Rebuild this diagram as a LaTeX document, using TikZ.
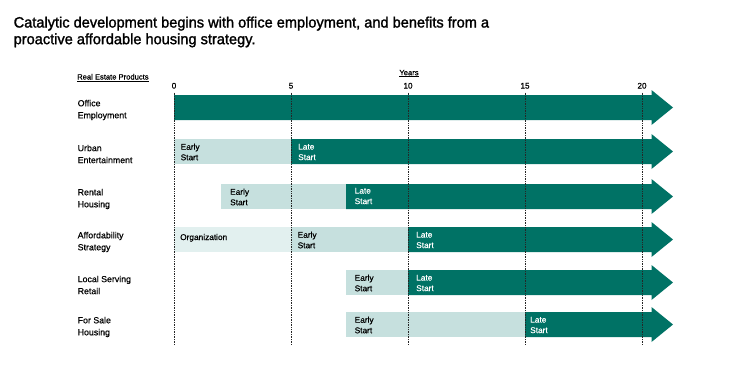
\documentclass[tikz,border=0pt]{standalone}
\usepackage{fontspec}
\setmainfont{Liberation Sans}
\newfontfamily\medfont[FakeBold=0.5]{Liberation Sans}
\newfontfamily\titlefont[FakeBold=1.5]{Liberation Sans}
\definecolor{dark}{RGB}{0,114,101}
\definecolor{early}{RGB}{198,224,222}
\definecolor{org}{RGB}{226,240,239}
\begin{document}
\begin{tikzpicture}[x=1pt,y=-1pt,
  rowlabel/.style={anchor=west,align=left,inner sep=0pt,font=\medfont\fontsize{8.8}{12}\selectfont},
  barlabel/.style={anchor=west,align=left,inner sep=0pt,font=\medfont\fontsize{8.3}{10.5}\selectfont},
  tick/.style={anchor=base,inner sep=0pt,font=\medfont\fontsize{8.2}{9}\selectfont},
  grid/.style={densely dotted,line width=0.7pt,black!85}]
\useasboundingbox (0,0) rectangle (742,365);
% title
\node[anchor=base west,inner sep=0pt,align=left] (title) at (13.5,27.5)
  {\scalebox{0.972}[1]{\titlefont\fontsize{15}{16}\selectfont Catalytic development begins with office employment, and benefits from a}};
\node[anchor=base west,inner sep=0pt,align=left] (title2) at (13.5,44.2)
  {\scalebox{0.972}[1]{\titlefont\fontsize{15}{16}\selectfont proactive affordable housing strategy.}};
% header
\node[anchor=base west,inner sep=0pt,font=\medfont\fontsize{7.6}{9}\selectfont] (rep) at (77,79.5) {\underline{Real Estate Products}};
\node[anchor=base,inner sep=0pt,font=\medfont\fontsize{7.6}{9}\selectfont] (years) at (409,75.2) {\underline{Years}};
\foreach \v/\xx in {0/174,5/291,10/408,15/525,20/642}
  \node[tick] (t\v) at (\xx,88.6) {\v};
% bars
\def\bar#1#2#3#4{\fill[#4] (#1,#3-12.5) rectangle (#2,#3+12.5);}
\def\arr#1#2{\fill[dark] (#1,#2-12.5) -- (651.5,#2-12.5) -- (651.5,#2-17.5) -- (673,#2) -- (651.5,#2+17.5) -- (651.5,#2+12.5) -- (#1,#2+12.5) -- cycle;}
% Row 1 Office
\node[rowlabel] (r1) at (77.5,110) {Office\\Employment};
\arr{174}{107.5}
% Row 2 Urban
\node[rowlabel] (r2) at (77.5,154) {Urban\\Entertainment};
\bar{174}{291}{151.5}{early}
\arr{291}{151.5}
\node[barlabel] (e2) at (180.5,152) {Early\\Start};
\node[barlabel,white] (l2) at (298,152) {Late\\Start};
% Row 3 Rental
\node[rowlabel] (r3) at (77.5,199) {Rental\\Housing};
\bar{221}{346}{196.5}{early}
\arr{346}{196.5}
\node[barlabel] (e3) at (230,197) {Early\\Start};
\node[barlabel,white] (l3) at (354.5,196) {Late\\Start};
% Row 4 Affordability
\node[rowlabel] (r4) at (77.5,242) {Affordability\\Strategy};
\bar{174}{291}{239.5}{org}
\bar{291}{408}{239.5}{early}
\arr{408}{239.5}
\node[barlabel,anchor=base west] (o4) at (180,240) {Organization};
\node[barlabel] (e4) at (297.5,240) {Early\\Start};
\node[barlabel,white] (l4) at (416,240) {Late\\Start};
% Row 5 Local
\node[rowlabel] (r5) at (77.5,285) {Local Serving\\Retail};
\bar{346}{408}{282.5}{early}
\arr{408}{282.5}
\node[barlabel] (e5) at (354.5,283) {Early\\Start};
\node[barlabel,white] (l5) at (416,283) {Late\\Start};
% Row 6 For Sale
\node[rowlabel] (r6) at (77.5,327) {For Sale\\Housing};
\bar{346}{525}{324.5}{early}
\arr{525}{324.5}
\node[barlabel] (e6) at (354.5,325) {Early\\Start};
\node[barlabel,white] (l6) at (530,325) {Late\\Start};
% grid lines
\foreach \xx in {174,291,408,525,642}
  \draw[grid] (\xx,92.5) -- (\xx,345);
\end{tikzpicture}
\end{document}
